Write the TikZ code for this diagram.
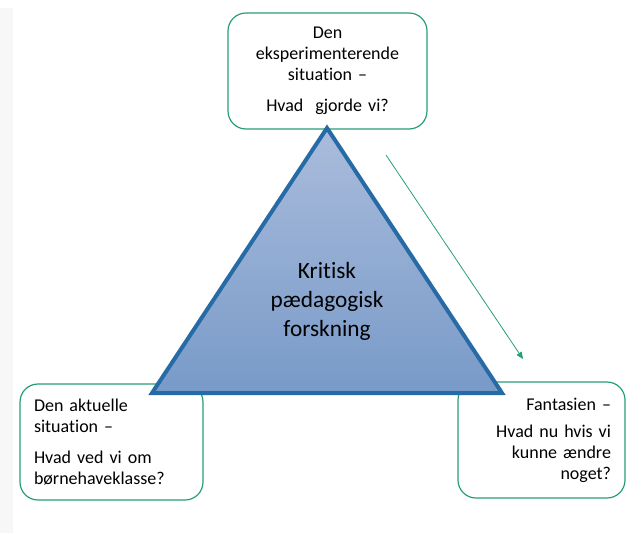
\documentclass[tikz,border=0pt]{standalone}
\usepackage{fontspec}
\setmainfont{Carlito}[RawFeature={-liga}]
\usetikzlibrary{arrows.meta}
\definecolor{boxgreen}{RGB}{40,158,118}
\definecolor{triblue}{RGB}{38,106,166}
\definecolor{trilight}{RGB}{170,188,220}
\definecolor{tridark}{RGB}{120,154,200}
\tikzset{
  boks/.style={draw=boxgreen, line width=1.2pt, rounded corners=18pt, fill=white,
    inner xsep=14pt, inner ysep=0pt, minimum height=116pt,
    font=\fontsize{18}{21}\selectfont},
  midt/.style={font=\fontsize{23.3}{29}\selectfont, align=center},
  every picture/.style={line join=miter}
}

\begin{document}
\begin{tikzpicture}[x=1pt,y=-1pt]
  \useasboundingbox (0,0) rectangle (642,533);
  \fill[black!3] (0,8) rectangle (13,533);
  % de tre situationer
  \node[boks, text width=171pt, align=center] (eksp) at (327.5,71)
    {Den\\eksperimenterende\\situation –\\[10pt]Hvad\ \ gjorde vi?};
  \node[boks, text width=155pt, align=left] (aktuel) at (111.5,442)
    {Den aktuelle\\situation –\\[10pt]Hvad ved vi om\\børnehaveklasse?};
  \node[boks, text width=139pt, align=right] (fantasi) at (541.5,440)
    {Fantasien –\\[6pt]Hvad nu hvis vi\\kunne ændre\\noget?};
  % trekanten
  \coordinate (top) at (327,128);
  \coordinate (vl) at (152,393);
  \coordinate (vr) at (502,393);
  \path[draw=triblue, line width=4pt, top color=trilight, bottom color=tridark]
    (top) -- (vr) -- (vl) -- cycle;
  \node[midt] (kritisk) at (327,301) {Kritisk\\pædagogisk\\forskning};
  % pil
  \coordinate (pa) at (386,155);
  \coordinate (pb) at (523,359);
  \draw[boxgreen, line width=0.8pt, -{Triangle[length=7pt,width=6pt]}] (pa) -- (pb);
\end{tikzpicture}
\end{document}
